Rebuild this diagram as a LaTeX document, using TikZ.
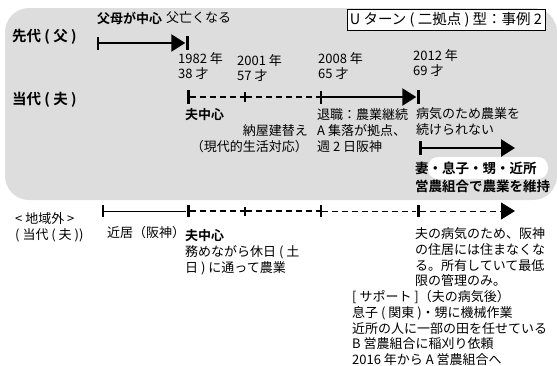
\documentclass[tikz,border=0pt]{standalone}
\usepackage{fontspec}
\setmainfont{Noto Sans CJK JP}[BoldFont={Noto Sans CJK JP Bold}]
\usetikzlibrary{arrows.meta}

\definecolor{panelGray}{RGB}{221,221,221}

\begin{document}
\begin{tikzpicture}[x=1pt, y=-1pt, font=\fontsize{13}{15.7}\selectfont]
%% the picture is laid out in pixel units of the 557x362 drawing
%% labels are anchored at their left edge, multi-line blocks at their top left
\tikzstyle{lbl}=[anchor=west, inner sep=0pt]
\tikzstyle{blk}=[anchor=north west, inner sep=0pt, align=left]
\tikzstyle{hdr}=[lbl, font=\fontsize{13}{15.7}\selectfont\bfseries]
\tikzstyle{genLabel}=[lbl, font=\fontsize{14.5}{16}\selectfont\bfseries]
\tikzstyle{solidArc}=[line width=2.4pt]
\tikzstyle{thinArc}=[line width=1pt]
\tikzstyle{dashArc}=[line width=2.6pt, dash pattern=on 6pt off 4pt]
\tikzstyle{thinDashArc}=[line width=1pt, dash pattern=on 6pt off 4pt]
\tikzstyle{arrowTip}=[-{Triangle[length=14pt, width=17pt, fill=black]}]
\tikzstyle{bigTick}=[fill=black, inner sep=0pt, minimum width=3pt, minimum height=14pt]
\tikzstyle{smallTick}=[fill=black, inner sep=0pt, minimum width=1.5pt, minimum height=10pt]
%% background panel and title
\fill[panelGray, rounded corners=24pt] (5,8) rectangle (557,200);
\node[draw, fill=white, line width=0.8pt, inner xsep=3pt, inner ysep=1pt, minimum height=21pt, font=\fontsize{14.5}{16}\selectfont] at (446,20) (title) {U ターン ( 二拠点 ) 型：事例 2};
%% previous generation
\node[genLabel] at (12,37) (prevGen) {先代 ( 父 )};
\node[hdr] at (97,18) (parentsCenter) {父母が中心};
\node[lbl] at (166,18) (fatherDies) {父亡くなる};
\node[fill=black, inner sep=0pt, minimum width=1.5pt, minimum height=13pt] at (98,43) (prevStart) {};
\node[bigTick] at (187,43) (prevEnd) {};
\draw[solidArc, arrowTip] (prevStart) -- (prevEnd);
%% years
\node[blk] at (178,52) (y1982) {1982 年\\38 才};
\node[blk] at (237,54) (y2001) {2001 年\\57 才};
\node[blk] at (318,52) (y2008) {2008 年\\65 才};
\node[blk] at (413,49) (y2012) {2012 年\\69 才};
%% current generation, in the area
\node[genLabel] at (12,100) (curGen) {当代 ( 夫 )};
\node[bigTick] at (188,97) (curStart) {};
\node[smallTick] at (245,97) (curBarn) {};
\node[smallTick, minimum height=13pt] at (321,97) (curRetire) {};
\node[bigTick] at (418,97) (curEnd) {};
\draw[dashArc] (curStart) -- (curBarn);
\draw[dashArc] (curBarn) -- (curRetire);
\draw[solidArc, arrowTip] (curRetire) -- (curEnd);
\node[hdr] at (185,115) (husbandCenter) {夫中心};
\node[blk, align=right, anchor=north east] at (308,124.5) (barn) {納屋建替え\\（現代的生活対応）};
\node[blk] at (317,108.5) (retire) {退職：農業継続\\A 集落が拠点、\\週 2 日阪神};
\node[blk] at (416,107.5) (illness) {病気のため農業を\\続けられない};
\node[bigTick] at (420,148) (keepStart) {};
\coordinate (keepEnd) at (515,148);
\draw[solidArc, arrowTip] (keepStart) -- (keepEnd);
\node[fill=white, draw=none, rounded corners=10pt, inner sep=0pt, minimum width=120pt, minimum height=22pt] at (488,168) (helperMark) {};
\node[blk, font=\fontsize{13.5}{18}\selectfont\bfseries] at (415,161.5) (helpers) {妻・息子・甥・近所\\営農組合で農業を維持};
%% outside the area
\node[blk] at (15,212.5) (outside) {< 地域外 >\\( 当代 ( 夫 ))};
\node[smallTick, minimum width=1.2pt, minimum height=12pt] at (103,211) (outStart) {};
\node[bigTick, minimum height=12pt] at (188,211) (outCenter) {};
\node[smallTick, minimum width=2pt, minimum height=9pt] at (245,211) (outBarn) {};
\node[smallTick, minimum height=12pt] at (321,211) (outRetire) {};
\node[bigTick, minimum height=12pt] at (418,211) (outIll) {};
\coordinate (outEnd) at (515,211);
\draw[thinArc] (outStart) -- (outCenter);
\draw[dashArc] (outCenter) -- (outBarn);
\draw[dashArc] (outBarn) -- (outRetire);
\draw[thinDashArc] (outRetire) -- (outIll);
\draw[thinDashArc, arrowTip] (outIll) -- (outEnd);
\node[lbl] at (107,233) (nearby) {近居（阪神）};
\node[hdr] at (185,236) (outHusband) {夫中心};
\node[blk] at (185,245.5) (commute) {務めながら休日 ( 土\\日 ) に通って農業};
\node[blk] at (415,227.5) (leaveHome) {夫の病気のため、阪神\\の住居には住まなくな\\る。所有していて最低\\限の管理のみ。};
\node[blk] at (352,290.5) (support) {[ サポート ]（夫の病気後）\\息子 ( 関東 )・甥に機械作業\\近所の人に一部の田を任せている\\B 営農組合に稲刈り依頼\\2016 年から A 営農組合へ};
\useasboundingbox (0,0) rectangle (557,362);
\end{tikzpicture}
\end{document}
